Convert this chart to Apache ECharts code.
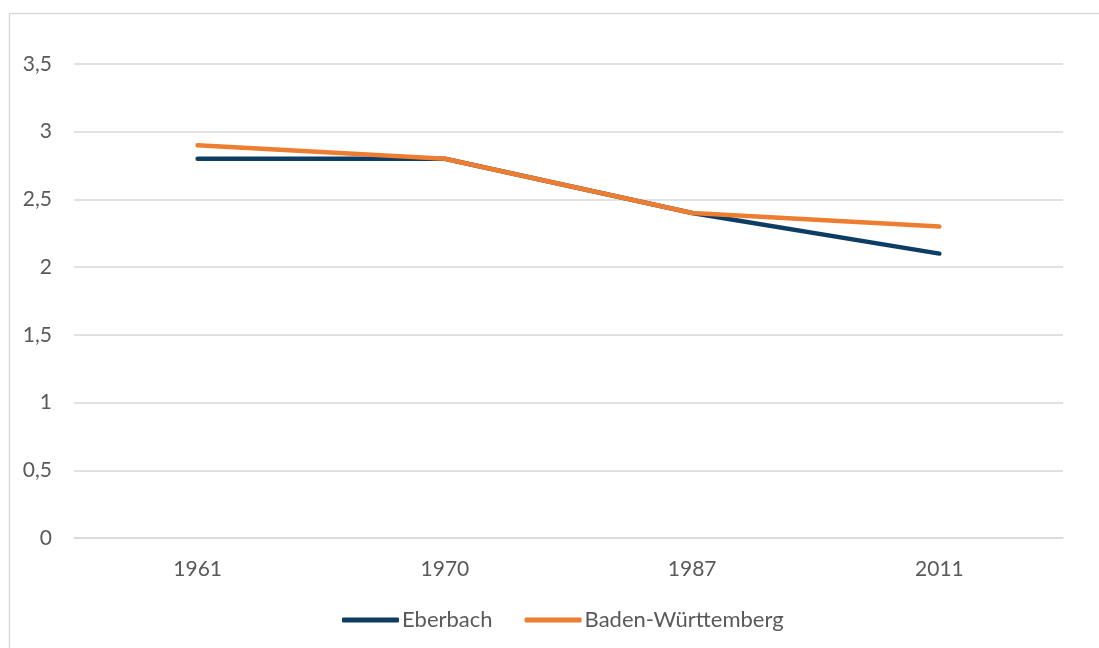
<!DOCTYPE html>
<html>
<head>
<meta charset="utf-8">
<script src="https://cdn.jsdelivr.net/npm/echarts@6/dist/echarts.min.js"></script>
<style>
  html, body { margin: 0; padding: 0; background: #fff; }
  #chart { width: 1099px; height: 648px; }
</style>
</head>
<body>
<div id="chart"></div>
<script>
var years = ['1961', '1970', '1987', '2011'];
var eberbach = [2.8, 2.8, 2.4, 2.1];
var badenWuerttemberg = [2.9, 2.8, 2.4, 2.3];

var textColor = '#595959';
var fontName = 'Lato';

var myChart = echarts.init(document.getElementById('chart'));

var option = {
  animation: false,
  backgroundColor: '#fff',
  textStyle: { fontFamily: fontName },
  graphic: [{
    type: 'rect',
    shape: { x: 9.5, y: 13.5, width: 1200, height: 700 },
    style: { fill: 'none', stroke: '#d9d9d9', lineWidth: 1.5 },
    silent: true
  }],
  grid: {
    left: 74,
    right: 36,
    top: 64,
    bottom: 110
  },
  legend: {
    top: 604,
    left: 337,
    itemWidth: 57,
    itemHeight: 5,
    itemGap: 32,
    icon: 'roundRect',
    textStyle: { color: textColor, fontSize: 22, fontFamily: fontName, padding: [0, 0, 0, -2] },
    data: ['Eberbach', 'Baden-Württemberg']
  },
  xAxis: {
    type: 'category',
    data: years,
    boundaryGap: true,
    axisLine: { show: true, lineStyle: { color: '#d9d9d9', width: 1.5 } },
    axisTick: { show: false },
    axisLabel: { color: textColor, fontSize: 21, margin: 21, fontFamily: fontName }
  },
  yAxis: {
    type: 'value',
    min: 0,
    max: 3.5,
    interval: 0.5,
    axisLine: { show: false },
    axisTick: { show: false },
    splitLine: { lineStyle: { color: '#d9d9d9', width: 1.5 } },
    axisLabel: {
      color: textColor,
      fontSize: 21,
      margin: 22,
      fontFamily: fontName,
      formatter: function (v) {
        return String(v).replace('.', ',');
      }
    }
  },
  series: [
    {
      name: 'Eberbach',
      type: 'line',
      data: eberbach,
      symbol: 'none',
      lineStyle: { color: '#0e3d63', width: 4.5, cap: 'round' },
      itemStyle: { color: '#0e3d63' }
    },
    {
      name: 'Baden-Württemberg',
      type: 'line',
      data: badenWuerttemberg,
      symbol: 'none',
      lineStyle: { color: '#ed7d31', width: 4.5, cap: 'round' },
      itemStyle: { color: '#ed7d31' }
    }
  ]
};

myChart.setOption(option);
</script>
</body>
</html>
